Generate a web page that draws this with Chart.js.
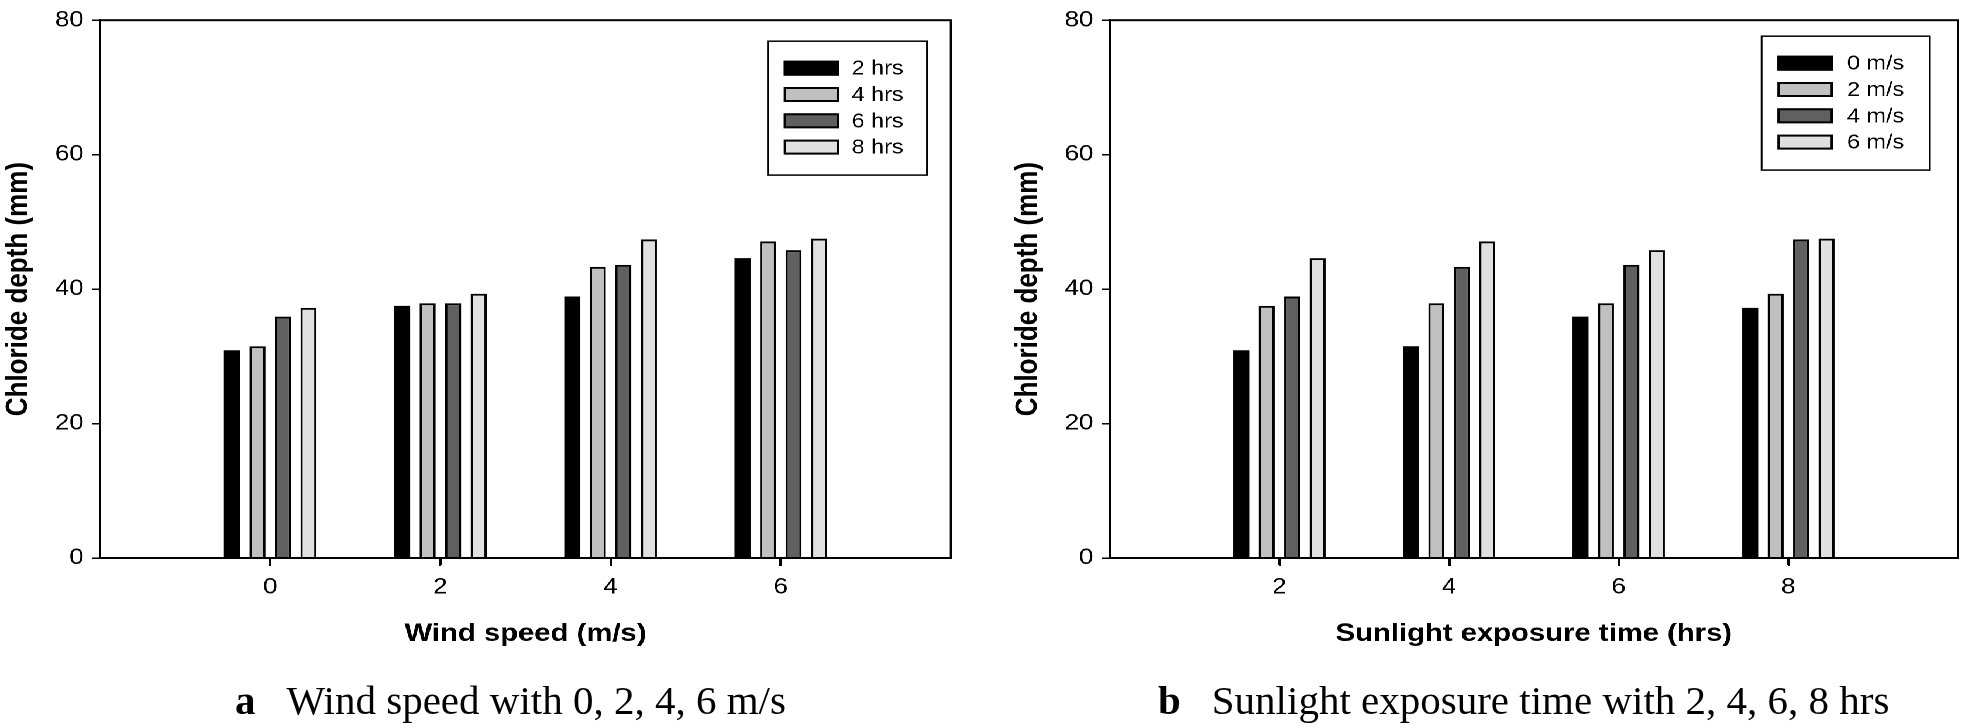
<!DOCTYPE html>
<html><head><meta charset="utf-8">
<script src="https://cdn.jsdelivr.net/npm/chart.js@4/dist/chart.umd.min.js"></script>
<style>
html,body{margin:0;padding:0;background:#fff;width:1961px;height:728px;overflow:hidden}
#wrap{position:absolute;left:0;top:0;width:1676px;height:728px;transform:scaleX(1.17);transform-origin:0 0}
.box{position:absolute;top:0}
.cap{position:absolute;font-family:'Liberation Serif','Times New Roman',serif;font-size:41px;line-height:41px;color:#000;white-space:nowrap}
.cap b{margin-right:31px}
</style></head><body>
<div id="wrap">
<div class="box" style="left:0;width:830px;height:665px"><canvas id="c1"></canvas></div>
<div class="box" style="left:863px;width:812px;height:665px"><canvas id="c2"></canvas></div>
</div>
<div class="cap" style="left:235px;top:680px"><b>a</b>Wind speed with 0, 2, 4, 6 m/s</div>
<div class="cap" style="left:1158px;top:680px"><b>b</b>Sunlight exposure time with 2, 4, 6, 8 hrs</div>
<script>
// ---- data ----
const windSpeeds = [0, 2, 4, 6];            // x categories, chart a (m/s)
const exposureHours = [2, 4, 6, 8];         // x categories, chart b (hrs)
const hourLabels = ['2 hrs', '4 hrs', '6 hrs', '8 hrs'];
const speedLabels = ['0 m/s', '2 m/s', '4 m/s', '6 m/s'];
const yTicks = [0, 20, 40, 60, 80];
// chart a: chloride depth (mm) per exposure time, at wind speed 0,2,4,6
const depth2h = [30.9, 37.5, 38.9, 44.6];
const depth4h = [31.5, 37.9, 43.3, 47.1];
const depth6h = [35.9, 37.9, 43.6, 45.8];
const depth8h = [37.2, 39.3, 47.4, 47.5];
// chart b: chloride depth (mm) per wind speed, at exposure 2,4,6,8 hrs
const depth0ms = [30.9, 31.5, 35.9, 37.2];
const depth2ms = [37.5, 37.9, 37.9, 39.3];
const depth4ms = [38.9, 43.3, 43.6, 47.4];
const depth6ms = [44.6, 47.1, 45.8, 47.5];

const FILLS = ['#000000', '#c0c0c0', '#606060', '#e0e0e0'];
const SANS = "'Liberation Sans', Arial, sans-serif";

const framePlugin = {
  id: 'frame',
  afterDraw(chart) {
    const {ctx, chartArea: a} = chart;
    const xs = chart.scales.x;
    ctx.save();
    ctx.strokeStyle = '#000';
    ctx.lineWidth = 2;
    ctx.strokeRect(a.left, a.top, a.right - a.left, a.bottom - a.top);
    xs.ticks.forEach(t => {
      const px = Math.round(xs.getPixelForValue(t.value));
      ctx.beginPath();
      ctx.moveTo(px, a.bottom);
      ctx.lineTo(px, a.bottom + 8);
      ctx.stroke();
    });
    ctx.restore();
  }
};

const boxLegend = {
  id: 'boxLegend',
  afterDraw(chart, args, o) {
    const {ctx, chartArea: a} = chart;
    const ds = chart.data.datasets;
    ctx.save();
    ctx.font = '20px ' + SANS;
    let tw = 0;
    ds.forEach(d => { tw = Math.max(tw, ctx.measureText(d.label).width); });
    const padL = 13.5, sw = 47.5, sh = 15, gap = o.gap, padR = o.padR, rowH = 26.3;
    const w = padL + sw + gap + tw + padR;
    const h = 19.5 + sh + rowH * (ds.length - 1) + 20.5;
    const x0 = a.right - o.right - w, y0 = a.top + o.top;
    ctx.fillStyle = '#fff';
    ctx.fillRect(x0, y0, w, h);
    ctx.strokeStyle = '#000';
    ctx.lineWidth = 1.5;
    ctx.strokeRect(x0, y0, w, h);
    ds.forEach((d, i) => {
      const cy = y0 + 19.5 + sh / 2 + rowH * i;
      ctx.fillStyle = d.backgroundColor;
      ctx.fillRect(x0 + padL, cy - sh / 2, sw, sh);
      ctx.lineWidth = 2;
      ctx.strokeStyle = '#000';
      ctx.strokeRect(x0 + padL + 1, cy - sh / 2 + 1, sw - 2, sh - 2);
      ctx.fillStyle = '#000';
      ctx.textBaseline = 'middle';
      ctx.textAlign = 'left';
      ctx.fillText(d.label, x0 + padL + sw + gap, cy + 1);
    });
    ctx.restore();
  }
};

function makeChart(id, cats, series, labels, xTitle, xMin, xMax, padRight, legendOpts) {
  const datasets = series.map((vals, k) => ({
    label: labels[k],
    data: cats.map((c, i) => ({x: c, y: vals[i]})),
    backgroundColor: FILLS[k],
    borderColor: '#000',
    borderWidth: k === 0 ? 0 : 2,
    categoryPercentage: 0.6,
    barPercentage: 0.63
  }));
  return new Chart(document.getElementById(id), {
    type: 'bar',
    data: {datasets},
    plugins: [framePlugin, boxLegend],
    options: {
      responsive: true,
      maintainAspectRatio: false,
      devicePixelRatio: 2,
      animation: false,
      layout: {padding: {top: 17, right: padRight, left: 0, bottom: 0}},
      plugins: {legend: {display: false}, tooltip: {enabled: false}, boxLegend: legendOpts},
      scales: {
        x: {
          type: 'linear', min: xMin, max: xMax, offset: false,
          afterBuildTicks: s => { s.ticks = cats.map(v => ({value: v})); },
          afterFit: s => { s.height = 107; },
          ticks: {font: {family: SANS, size: 22}, color: '#000', padding: 9, maxRotation: 0,
                  callback: v => String(v)},
          grid: {offset: false, drawOnChartArea: false, drawTicks: true, tickLength: 7, color: '#000', lineWidth: 2},
          border: {display: true, color: '#000', width: 2},
          title: {display: true, text: xTitle, color: '#000',
                  font: {family: SANS, size: 25, weight: 'bold'}, padding: {top: 0, bottom: 16}}
        },
        y: {
          min: 0, max: 80,
          afterBuildTicks: s => { s.ticks = yTicks.map(v => ({value: v})); },
          afterFit: s => { s.width = 85.5; },
          ticks: {font: {family: SANS, size: 22}, color: '#000', padding: 7},
          grid: {drawOnChartArea: false, drawTicks: true, tickLength: 7, color: '#000', lineWidth: 1.5},
          border: {display: true, color: '#000', width: 2},
          title: {display: true, text: 'Chloride depth (mm)', color: '#000',
                  font: {family: SANS, size: 26, weight: 'bold'}, padding: {top: 0, bottom: 0}}
        }
      }
    }
  });
}

makeChart('c1', windSpeeds, [depth2h, depth4h, depth6h, depth8h], hourLabels,
  'Wind speed (m/s)', -2, 8, 17.2, {right: 20.5, top: 21, gap: 10.5, padR: 20});
makeChart('c2', exposureHours, [depth0ms, depth2ms, depth4ms, depth6ms], speedLabels,
  'Sunlight exposure time (hrs)', 0, 10, 1.5, {right: 24, top: 16, gap: 12, padR: 22});
</script>
</body></html>
